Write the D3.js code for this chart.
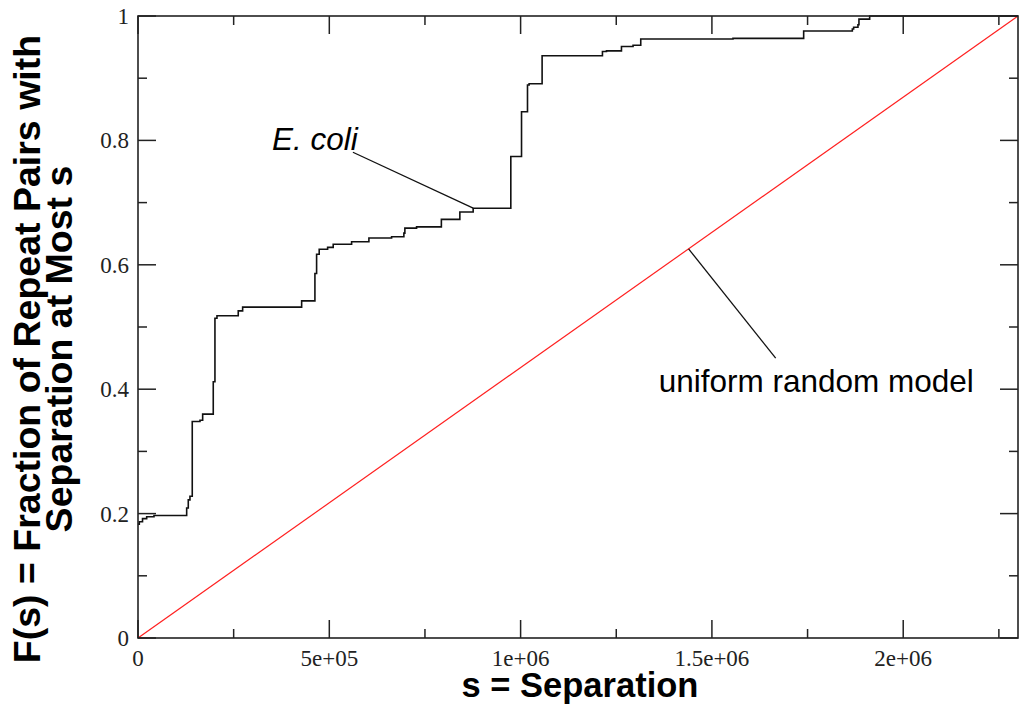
<!DOCTYPE html>
<html>
<head>
<meta charset="utf-8">
<script src="https://cdn.jsdelivr.net/npm/d3@7"></script>
<style>
  html, body { margin: 0; padding: 0; background: #fff; }
  svg { display: block; }
  .tick-label { font-family: "Liberation Serif", "DejaVu Serif", "Times New Roman", serif; font-size: 23px; fill: #222; }
  .axis-title { font-family: "Liberation Sans", Arial, sans-serif; font-weight: bold; fill: #000; }
  .note { font-family: "Liberation Sans", Arial, sans-serif; font-size: 31.5px; fill: #000; }
</style>
</head>
<body>
<svg id="chart" width="1020" height="709"></svg>
<script>
// Cumulative fraction of E. coli repeat pairs with separation at most s (step function)
const separation = [
  0, 3400, 11800, 22700, 41800, 127200, 131400, 135800, 141800, 162000,
  169000, 196700, 201100, 206400, 262000, 273500, 427700, 462400, 466800, 473600,
  495600, 510200, 558300, 603500, 662800, 694900, 697500, 728100, 792900, 841200,
  876000, 974400, 1002400, 1018000, 1022200, 1056200, 1213900, 1224400, 1263600, 1293900,
  1314000, 1555100, 1739800, 1867000, 1870400, 1881700, 1884300, 1912300, 2300000
];
const fraction = [
  0.183, 0.187, 0.192, 0.195, 0.197, 0.209, 0.222, 0.228, 0.348, 0.350,
  0.360, 0.412, 0.514, 0.518, 0.526, 0.532, 0.542, 0.586, 0.617, 0.625,
  0.628, 0.633, 0.637, 0.643, 0.645, 0.651, 0.659, 0.661, 0.673, 0.685,
  0.691, 0.774, 0.846, 0.889, 0.891, 0.936, 0.943, 0.944, 0.951, 0.953,
  0.963, 0.964, 0.976, 0.979, 0.982, 0.986, 0.995, 1.000, 1.000
];

// Uniform random model: F(s) = s / maximum separation
const modelSeparation = [0, 2300000];
const modelFraction = [0, 1];

// Axis ticks
const xMajorTicks = [0, 500000, 1000000, 1500000, 2000000];
const xTickLabels = ["0", "5e+05", "1e+06", "1.5e+06", "2e+06"];
const xMinorTicks = [250000, 750000, 1250000, 1750000, 2250000];
const yMajorTicks = [0, 0.2, 0.4, 0.6, 0.8, 1];
const yTickLabels = ["0", "0.2", "0.4", "0.6", "0.8", "1"];
const yMinorTicks = [0.1, 0.3, 0.5, 0.7, 0.9];

const svg = d3.select("#chart");
const margin = { left: 138, right: 2, top: 16, bottom: 71 };
const W = 1020, H = 709;
const x = d3.scaleLinear().domain([0, 2300000]).range([margin.left, W - margin.right]);
const y = d3.scaleLinear().domain([0, 1]).range([H - margin.bottom, margin.top]);

// Uniform model line
svg.append("path")
  .datum(modelSeparation.map((s, i) => [s, modelFraction[i]]))
  .attr("fill", "none")
  .attr("stroke", "#ff2020")
  .attr("stroke-width", 1.2)
  .attr("d", d3.line().x(d => x(d[0])).y(d => y(d[1])));

// E. coli step curve
svg.append("path")
  .datum(separation.map((s, i) => [s, fraction[i]]))
  .attr("fill", "none")
  .attr("stroke", "#111")
  .attr("stroke-width", 1.6)
  .attr("d", d3.line().curve(d3.curveStepAfter).x(d => x(d[0])).y(d => y(d[1])));

// Frame with inward ticks on all four sides
const frame = svg.append("g").attr("stroke", "#222").attr("fill", "none");
frame.append("rect")
  .attr("x", x(0)).attr("y", y(1))
  .attr("width", x(2300000) - x(0)).attr("height", y(0) - y(1))
  .attr("stroke-width", 1.6);

const majorLen = 18, minorLen = 9;
function xTicks(vals, len) {
  vals.forEach(v => {
    frame.append("line").attr("x1", x(v)).attr("x2", x(v))
      .attr("y1", y(0)).attr("y2", y(0) - len).attr("stroke-width", 1.5);
    frame.append("line").attr("x1", x(v)).attr("x2", x(v))
      .attr("y1", y(1)).attr("y2", y(1) + len).attr("stroke-width", 1.5);
  });
}
function yTicks(vals, len) {
  vals.forEach(v => {
    frame.append("line").attr("y1", y(v)).attr("y2", y(v))
      .attr("x1", x(0)).attr("x2", x(0) + len).attr("stroke-width", 1.5);
    frame.append("line").attr("y1", y(v)).attr("y2", y(v))
      .attr("x1", x(2300000)).attr("x2", x(2300000) - len).attr("stroke-width", 1.5);
  });
}
xTicks(xMajorTicks, majorLen);
xTicks(xMinorTicks, minorLen);
yTicks(yMajorTicks, majorLen);
yTicks(yMinorTicks, minorLen);

// Tick labels
svg.append("g").selectAll("text").data(xMajorTicks).join("text")
  .attr("class", "tick-label")
  .attr("x", d => x(d)).attr("y", y(0) + 28)
  .attr("text-anchor", "middle")
  .text((d, i) => xTickLabels[i]);

svg.append("g").selectAll("text").data(yMajorTicks).join("text")
  .attr("class", "tick-label")
  .attr("x", x(0) - 9).attr("y", d => y(d) + 8)
  .attr("text-anchor", "end")
  .text((d, i) => yTickLabels[i]);

// Axis titles
svg.append("text")
  .attr("class", "axis-title")
  .attr("x", (x(0) + x(2300000)) / 2 + 2).attr("y", 697)
  .attr("text-anchor", "middle")
  .style("font-size", "34.5px")
  .text("s = Separation");

const yTitle = svg.append("text")
  .attr("class", "axis-title")
  .attr("transform", `translate(0, ${(y(0) + y(1)) / 2 + 22}) rotate(-90)`)
  .attr("text-anchor", "middle")
  .style("font-size", "37.5px");
yTitle.append("tspan").attr("x", 0).attr("y", 40).text("F(s) = Fraction of Repeat Pairs with");
yTitle.append("tspan").attr("x", 0).attr("y", 72).text("Separation at Most s");

// Annotations
const notes = svg.append("g");
notes.append("text")
  .attr("class", "note")
  .attr("x", x(350000)).attr("y", y(0.7846))
  .style("font-style", "italic")
  .text("E. coli");
notes.append("line")
  .attr("x1", x(561700)).attr("y1", y(0.781))
  .attr("x2", x(876000)).attr("y2", y(0.691))
  .attr("stroke", "#111").attr("stroke-width", 1.3);

notes.append("text")
  .attr("class", "note")
  .attr("x", x(1361000)).attr("y", y(0.3955))
  .text("uniform random model");
notes.append("line")
  .attr("x1", x(1439000)).attr("y1", y(1439000 / 2300000))
  .attr("x2", x(1666700)).attr("y2", y(0.450))
  .attr("stroke", "#111").attr("stroke-width", 1.3);
</script>
</body>
</html>
